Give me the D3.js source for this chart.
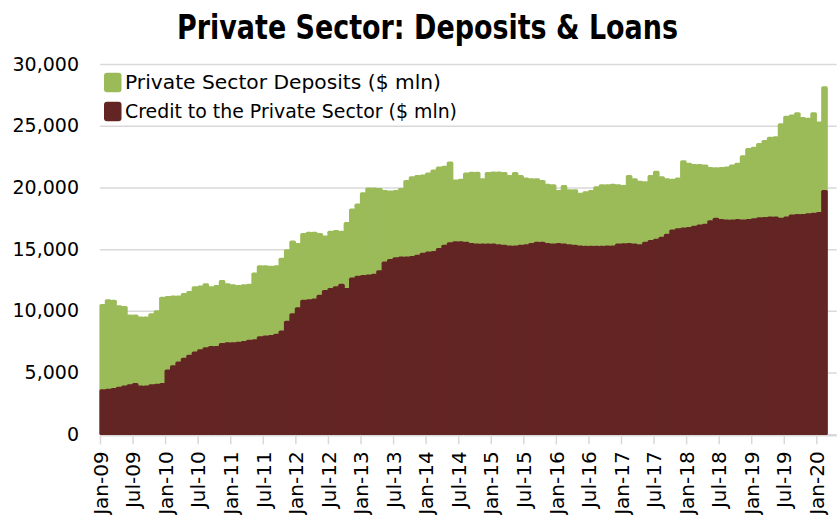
<!DOCTYPE html>
<html>
<head>
<meta charset="utf-8">
<script src="https://cdn.jsdelivr.net/npm/d3@7"></script>
<style>
  html, body { margin: 0; padding: 0; background: #fff; }
  svg { display: block; }
</style>
</head>
<body>
<svg id="chart" width="837" height="515"></svg>
<script>
// ---------- DATA ----------
const title = "Private Sector: Deposits & Loans";
const seriesNames = ["Private Sector Deposits ($ mln)", "Credit to the Private Sector ($ mln)"];
const monthNames = ["Jan","Feb","Mar","Apr","May","Jun","Jul","Aug","Sep","Oct","Nov","Dec"];
// monthly categories Jan-09 .. Feb-20
const categories = [];
for (let yr = 2009; yr <= 2020; yr++) {
  for (let m = 0; m < 12; m++) {
    if (yr === 2020 && m > 1) break;
    categories.push(monthNames[m] + "-" + String(yr).slice(2));
  }
}
const deposits = [
  10550,10950,10900,10450,10400,9700,9700,9550,9550,9800,10050,11150,
  11200,11250,11250,11450,11600,12000,12050,12230,12000,12100,12500,12230,
  12150,12100,12150,12200,13100,13700,13700,13650,13700,14300,15000,15700,
  15500,16300,16400,16400,16300,16100,16500,16550,16500,17200,18300,18700,
  19600,20000,20000,19950,19800,19750,19800,19950,20600,20900,21000,21050,
  21200,21450,21700,21750,22100,20650,20700,21200,21270,21270,20750,21250,
  21300,21300,21250,21000,21250,21000,20800,20750,20750,20600,20300,20250,
  19800,20200,19850,19850,19570,19700,19790,20100,20250,20250,20300,20250,
  20200,21000,20750,20550,20500,21000,21350,20900,20750,20700,20800,22200,
  22000,21900,21900,21850,21650,21630,21650,21700,21850,22000,22600,23200,
  23300,23600,23850,24100,24150,25200,25800,25900,26100,25700,25650,26100,
  25350,28200
];
const credit = [
  3650,3700,3750,3850,3950,4050,4150,3950,3950,4050,4100,4150,
  5250,5600,5900,6200,6450,6700,6900,7050,7150,7150,7400,7450,
  7450,7500,7550,7650,7700,7950,8000,8050,8150,8400,9200,9800,
  10300,10900,10950,11000,11300,11700,11850,12000,12200,11850,12700,12850,
  12900,12950,13000,13300,14000,14200,14350,14400,14400,14450,14550,14700,
  14800,14850,15100,15350,15550,15650,15650,15600,15500,15450,15450,15450,
  15450,15400,15350,15300,15300,15350,15400,15500,15600,15600,15500,15450,
  15500,15450,15400,15350,15300,15280,15280,15280,15280,15300,15300,15450,
  15470,15500,15450,15400,15600,15750,15850,16000,16250,16600,16700,16750,
  16800,16900,17000,17050,17350,17550,17450,17400,17400,17450,17400,17450,
  17500,17580,17600,17650,17650,17550,17650,17800,17850,17850,17900,17950,
  18000,19800
];
const tickLabels = ["Jan-09","Jul-09","Jan-10","Jul-10","Jan-11","Jul-11","Jan-12","Jul-12",
  "Jan-13","Jul-13","Jan-14","Jul-14","Jan-15","Jul-15","Jan-16","Jul-16","Jan-17","Jul-17",
  "Jan-18","Jul-18","Jan-19","Jul-19","Jan-20"];
const yTicks = [0, 5000, 10000, 15000, 20000, 25000, 30000];
const colors = ["#9bbb59", "#632523"];

// ---------- CHART ----------
(function () {
const svg = d3.select("#chart");
const font = "'DejaVu Sans', Verdana, sans-serif";
const pL = 100, pR = 836.7, pT = 64, pB = 434.3;

const x = d3.scaleLinear().domain([0, 135.75]).range([pL, pR]);
const y = d3.scaleLinear().domain([0, 30000]).range([pB, pT]);

// gridlines + y labels
const yAxis = d3.axisLeft(y).tickValues(yTicks).tickFormat(d3.format(","))
  .tickSize(-(pR - pL)).tickPadding(21);
const gy = svg.append("g").attr("transform", `translate(${pL},0)`).call(yAxis);
gy.select(".domain").remove();
gy.selectAll(".tick line").attr("stroke", "#d9d9d9").attr("stroke-width", 1.5);
gy.selectAll(".tick text").attr("font-family", font).attr("font-size", 19).attr("fill", "#000");

// bars (rounded tops via round-joined stroke)
function drawBars(values, color) {
  const sw = 3.4;
  svg.append("g").selectAll("rect").data(values).join("rect")
    .attr("x", (d, i) => x(i) + sw / 2 - 0.6)
    .attr("width", (d, i) => x(i + 1) - x(i) - sw + 1.2)
    .attr("y", d => y(d) + sw / 2)
    .attr("height", d => y(0) - y(d) - sw / 2 - 0.8)
    .attr("fill", color)
    .attr("stroke", color)
    .attr("stroke-width", sw)
    .attr("stroke-linejoin", "round");
}
drawBars(deposits, colors[0]);
drawBars(credit, colors[1]);

// x axis
const tickIdx = tickLabels.map((t) => categories.indexOf(t));
const xAxis = d3.axisBottom(x).tickValues(tickIdx)
  .tickFormat((d, i) => tickLabels[i]).tickSizeInner(9).tickSizeOuter(0).tickPadding(4);
const gx = svg.append("g").attr("transform", `translate(0,${pB + 1})`).call(xAxis);
gx.select(".domain").attr("stroke", "#d9d9d9").attr("stroke-width", 1.5);
gx.selectAll(".tick line").attr("stroke", "#d9d9d9").attr("stroke-width", 1.5);
gx.selectAll(".tick text")
  .attr("font-family", font).attr("font-size", 20).attr("fill", "#000")
  .attr("text-anchor", "end")
  .attr("transform", "rotate(-90)")
  .attr("x", -16).attr("y", 0).attr("dy", "0.36em");

// title
svg.append("text").attr("x", 427.5).attr("y", 38.5)
  .attr("text-anchor", "middle")
  .attr("font-family", font).attr("font-weight", "bold").attr("font-size", 33)
  .attr("textLength", 501).attr("lengthAdjust", "spacingAndGlyphs")
  .text(title);

// legend
const legendY = [72.7, 101.7];
const legendLen = [316, 332];
seriesNames.forEach((name, i) => {
  svg.append("rect").attr("x", 104).attr("y", legendY[i]).attr("width", 17.5).attr("height", 19.5)
    .attr("rx", 3).attr("fill", colors[i]);
  svg.append("text").attr("x", 125).attr("y", legendY[i] + 16.6)
    .attr("font-family", font).attr("font-size", 19)
    .attr("textLength", legendLen[i]).attr("lengthAdjust", "spacingAndGlyphs")
    .text(name);
});
})();
</script>
</body>
</html>
